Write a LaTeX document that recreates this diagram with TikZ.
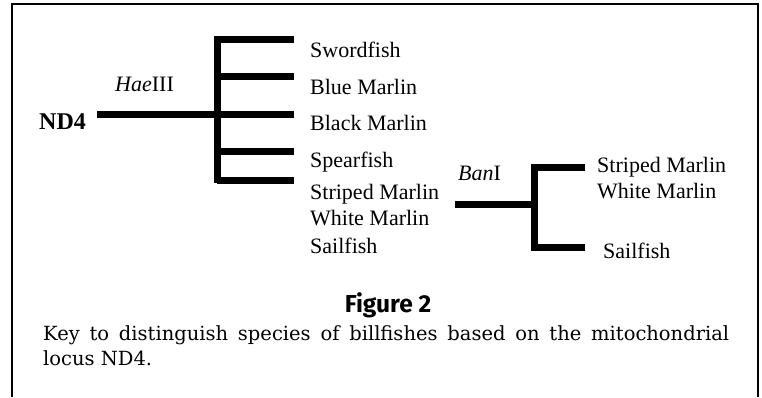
\documentclass[tikz,border=0pt]{standalone}
\usepackage{fontspec}
\setmainfont{Liberation Serif}
\newfontfamily\capfont{DejaVu Serif}
\newfontfamily\headfont{Fira Sans}
\begin{document}
\begin{tikzpicture}[x=1pt,y=-1pt,
  branch/.style={line width=7pt,line cap=butt},
  frame/.style={line width=2.5pt},
  label/.style={inner sep=0pt,anchor=base west,font=\fontsize{22}{26}\selectfont},
  enzyme/.style={label},
  locus/.style={inner sep=0pt,anchor=base west,font=\fontsize{24}{28}\selectfont\bfseries},
]
\useasboundingbox (0,0) rectangle (762,397);
% open frame
\draw[frame] (12,397) -- (12,4) -- (758,4) -- (758,397);

% first split (HaeIII)
\node[locus] (nd) at (39,129) {ND4};
\node[enzyme] (hae) at (115,91) {\textit{Hae}III};
\coordinate (r0) at (97,114);
\coordinate (j0) at (217,114);
\coordinate (vt) at (217,35.5);
\coordinate (vb) at (217,183);
\draw[branch] (r0) -- (j0);
\draw[branch] (vt) -- (vb);
\foreach \y/\n in {39/a,76/b,114/c,151/d,180/e}{
  \coordinate (s\n) at (217,\y);
  \coordinate (t\n) at (294,\y);
  \draw[branch] (s\n) -- (t\n);
}
\node[label] (sw) at (310,57) {Swordfish};
\node[label] (bl) at (310,94) {Blue Marlin};
\node[label] (bk) at (310,130.5) {Black Marlin};
\node[label] (sp) at (310,167.5) {Spearfish};
\node[label] (st) at (310,199) {Striped Marlin};
\node[label] (wh) at (310,225.5) {White Marlin};
\node[label] (sa) at (310,253) {Sailfish};

% second split (BanI)
\node[enzyme] (ban) at (458,180) {\textit{Ban}I};
\coordinate (r1) at (455,204);
\coordinate (j1) at (534,204);
\coordinate (ut) at (534,163.5);
\coordinate (ub) at (534,250.5);
\draw[branch] (r1) -- (j1);
\draw[branch] (ut) -- (ub);
\coordinate (u1) at (534,167);
\coordinate (v1) at (585,167);
\coordinate (u2) at (534,247);
\coordinate (v2) at (585,247);
\draw[branch] (u1) -- (v1);
\draw[branch] (u2) -- (v2);
\node[label] (st2) at (597,172) {Striped Marlin};
\node[label] (wh2) at (597,198) {White Marlin};
\node[label] (sa2) at (603,258) {Sailfish};

% caption
\node[inner sep=0pt,anchor=base] (fig) at (388,312)
  {\headfont\bfseries\fontsize{24.5}{28}\selectfont Figure 2};
\node[inner sep=0pt,anchor=base west,text width=686pt,align=justify,
      font=\capfont\fontsize{19.5}{25}\selectfont] (cap) at (43,340)
  {Key to distinguish species of billfishes based on the mitochondrial\linebreak locus ND4.};
\end{tikzpicture}
\end{document}
